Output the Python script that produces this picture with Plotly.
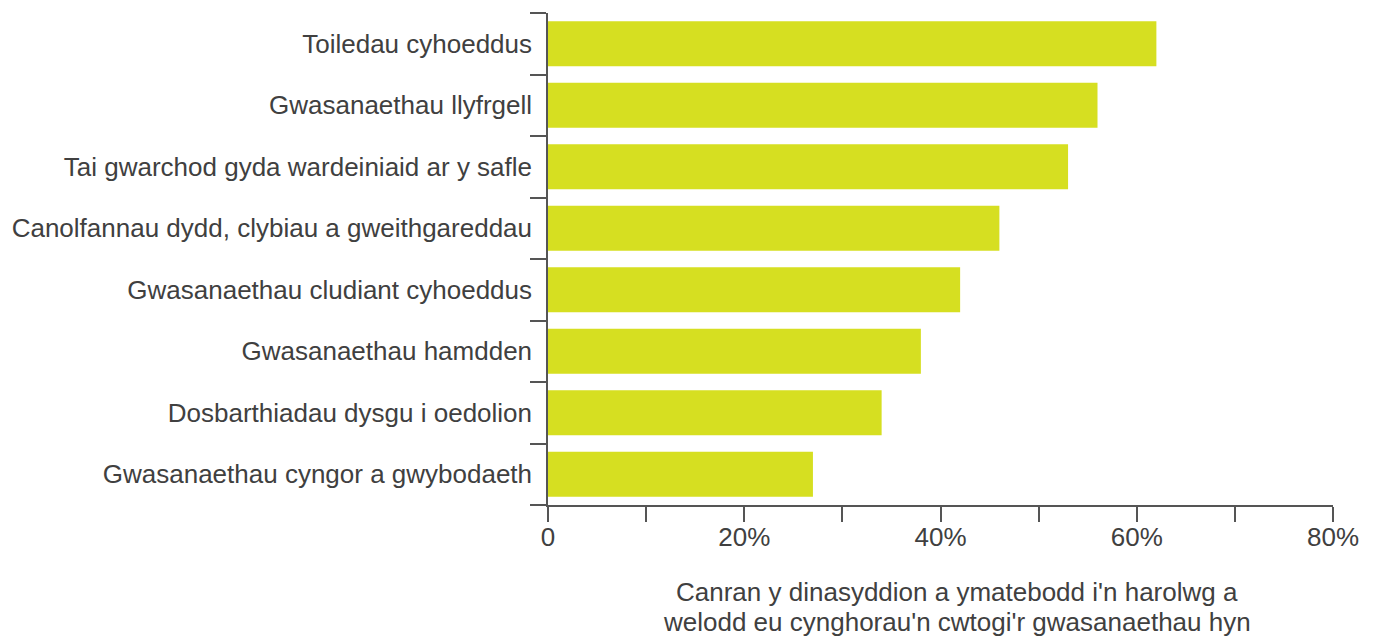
import plotly.graph_objects as go

categories = [
    "Toiledau cyhoeddus",
    "Gwasanaethau llyfrgell",
    "Tai gwarchod gyda wardeiniaid ar y safle",
    "Canolfannau dydd, clybiau a gweithgareddau",
    "Gwasanaethau cludiant cyhoeddus",
    "Gwasanaethau hamdden",
    "Dosbarthiadau dysgu i oedolion",
    "Gwasanaethau cyngor a gwybodaeth",
]
values = [62, 56, 53, 46, 42, 38, 34, 27]
tick_vals = [0, 10, 20, 30, 40, 50, 60, 70, 80]
tick_text = ["0", "", "20%", "", "40%", "", "60%", "", "80%"]
x_title_lines = [
    "Canran y dinasyddion a ymatebodd i'n harolwg a",
    "welodd eu cynghorau'n cwtogi'r gwasanaethau hyn",
]

FONT = "Liberation Sans, Arial, sans-serif"
TXT = "#404040"
AX = "#555555"

fig = go.Figure(
    go.Bar(
        x=values,
        y=categories,
        orientation="h",
        marker=dict(color="#d6df21", line=dict(width=0)),
        hoverinfo="x+y",
    )
)

title_y = [-0.1778, -0.2388]

fig.update_layout(
    width=1378,
    height=637,
    margin=dict(l=548, r=45, t=13, b=132),
    plot_bgcolor="white",
    paper_bgcolor="white",
    bargap=0.27,
    showlegend=False,
    font=dict(family=FONT, size=26, color=TXT),
    xaxis=dict(
        range=[0, 80],
        tickvals=tick_vals,
        ticktext=tick_text,
        ticks="outside",
        ticklen=15,
        tickwidth=1.5,
        tickcolor=AX,
        ticklabelstandoff=-7,
        showline=True,
        linecolor=AX,
        linewidth=1.5,
        showgrid=False,
        zeroline=False,
        tickfont=dict(family=FONT, size=26, color=TXT),
    ),
    yaxis=dict(
        categoryorder="array",
        categoryarray=categories[::-1],
        tickson="boundaries",
        ticks="outside",
        ticklen=16,
        tickwidth=1.5,
        tickcolor=AX,
        ticklabelstandoff=9,
        showline=True,
        linecolor=AX,
        linewidth=1.5,
        showgrid=False,
        zeroline=False,
        tickfont=dict(family=FONT, size=26, color=TXT),
    ),
    annotations=[
        dict(
            text=line,
            xref="paper",
            yref="paper",
            x=0.521,
            y=yy,
            xanchor="center",
            yanchor="middle",
            showarrow=False,
            align="center",
            font=dict(family=FONT, size=26, color=TXT),
        )
        for line, yy in zip(x_title_lines, title_y)
    ],
)

# remove the browser's default 8px body margin so the figure fills the window exactly
fig.write_html(
    "out.html",
    config={"displayModeBar": False},
    post_script="document.body.style.margin='0';document.body.style.overflow='hidden';",
)
